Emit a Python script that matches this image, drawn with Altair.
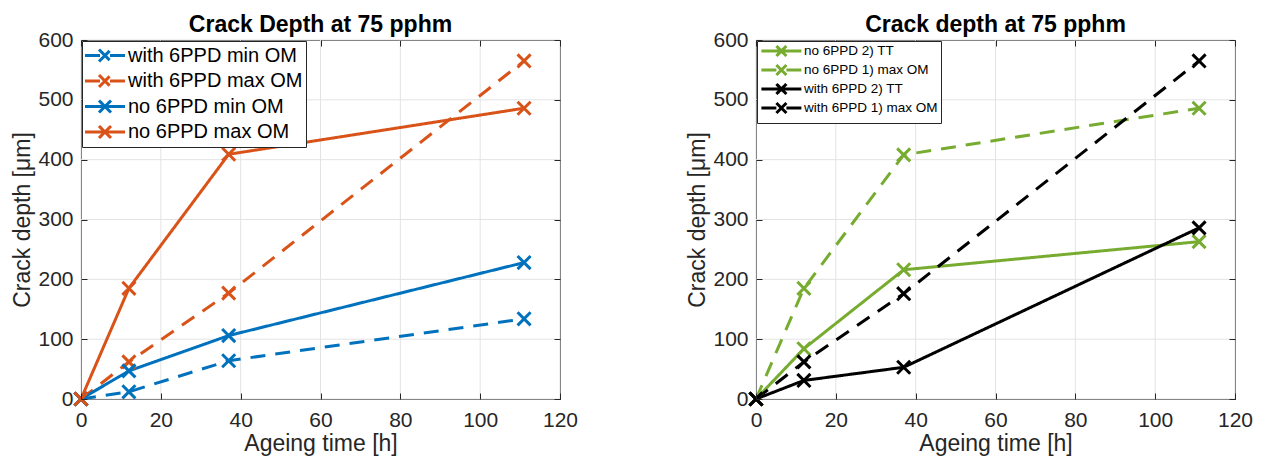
import altair as alt
import pandas as pd

# ---------------- data ----------------
time_h = [0, 12, 37, 111]

left_series = ["with 6PPD min OM", "with 6PPD max OM", "no 6PPD min OM", "no 6PPD max OM"]
left_with_min = [0, 12, 64, 134]
left_with_max = [0, 62, 177, 565]
left_no_min = [0, 47, 106, 228]
left_no_max = [0, 185, 409, 486]
left_colors = ["#0072BD", "#D95319", "#0072BD", "#D95319"]
left_dashed = [True, True, False, False]

right_series = ["no 6PPD 2) TT", "no 6PPD 1) max OM", "with 6PPD 2) TT", "with 6PPD 1) max OM"]
right_no_tt = [0, 84, 216, 263]
right_no_max = [0, 185, 408, 486]
right_with_tt = [0, 31, 53, 286]
right_with_max = [0, 62, 176, 565]
right_colors = ["#77AC30", "#77AC30", "#000000", "#000000"]
right_dashed = [False, True, False, True]

x_ticks = [0, 20, 40, 60, 80, 100, 120]
y_ticks = [0, 100, 200, 300, 400, 500, 600]

# ---------------- style ----------------
W, H = 479, 359
TICK = 6
FONT = "Liberation Sans"
AX = "#262626"
GRID = "#e3e3e3"
DASH = [15, 10]
SOLID = [1, 0]
X_MARK = "M-1,-1L1,1M-1,1L1,-1"


def make_df(series, values):
    rows = []
    for s, vals in zip(series, values):
        for t, v in zip(time_h, vals):
            rows.append({"series": s, "t": t, "depth": v})
    return pd.DataFrame(rows)


def panel(df, series, colors, dashed, title, leg):
    dashes = [DASH if d else SOLID for d in dashed]
    legend = alt.Legend(
        title=None, orient="top-left", offset=1,
        symbolType=leg["path"], symbolSize=leg["size"], symbolStrokeWidth=3,
        labelFont=FONT, labelFontSize=leg["font"], labelColor="black",
        labelOffset=leg["labelOffset"], rowPadding=leg["rowPadding"],
        padding=leg["padding"], strokeColor=AX, fillColor="white",
        cornerRadius=0, labelLimit=500, zindex=2,
    )
    color = alt.Color("series:N", scale=alt.Scale(domain=series, range=colors), legend=legend)
    dash = alt.StrokeDash("series:N", scale=alt.Scale(domain=series, range=dashes), legend=legend)

    xs = alt.Scale(domain=[0, 120], nice=False, zero=False)
    ys = alt.Scale(domain=[0, 600], nice=False)

    x_enc = alt.X("t:Q", scale=xs, axis=alt.Axis(
        orient="bottom", values=x_ticks, title="Ageing time [h]",
        grid=True, gridColor=AX, gridOpacity=1, gridWidth=1,
        gridDash=[TICK, H - 2 * TICK, TICK],
        ticks=False, tickSize=0, domain=False,
        labelFont=FONT, labelFontSize=21, labelColor=AX, labelPadding=10,
        labelFlush=False, labelOverlap=False,
        titleFont=FONT, titleFontSize=23, titleFontWeight="normal", titleColor=AX,
        titlePadding=2, zindex=1))
    y_enc = alt.Y("depth:Q", scale=ys, axis=alt.Axis(
        orient="left", values=y_ticks, title="Crack depth [μm]",
        grid=True, gridColor=AX, gridOpacity=1, gridWidth=1,
        gridDash=[TICK, W - 2 * TICK, TICK],
        ticks=False, tickSize=0, domain=False,
        labelFont=FONT, labelFontSize=21, labelColor=AX, labelPadding=8,
        labelFlush=False, labelOverlap=False,
        titleFont=FONT, titleFontSize=23, titleFontWeight="normal", titleColor=AX,
        titlePadding=3, zindex=1))

    vgrid = alt.Chart(pd.DataFrame({"t": x_ticks})).mark_rule(
        color=GRID, strokeWidth=1).encode(x=x_enc)
    hgrid = alt.Chart(pd.DataFrame({"depth": y_ticks})).mark_rule(
        color=GRID, strokeWidth=1).encode(y=y_enc)
    lines = alt.Chart(df).mark_line(strokeWidth=3, strokeJoin="round").encode(
        x=x_enc, y=y_enc, color=color, strokeDash=dash)
    points = alt.Chart(df).mark_point(
        shape=X_MARK, size=170, filled=False, strokeWidth=3, opacity=1).encode(
        x=x_enc, y=y_enc, color=color)

    return alt.layer(vgrid, hgrid, lines, points).properties(
        width=W, height=H,
        title=alt.TitleParams(text=title, font=FONT, fontSize=23, fontWeight="bold",
                              color="black", anchor="middle", frame="group", offset=-8))


left_df = make_df(left_series, [left_with_min, left_with_max, left_no_min, left_no_max])
right_df = make_df(right_series, [right_no_tt, right_no_max, right_with_tt, right_with_max])

left_leg = {
    "path": "M-1.15,0L2.85,0M0.25,-0.6L1.45,0.6M0.25,0.6L1.45,-0.6",
    "size": 400, "font": 20, "labelOffset": 20, "rowPadding": 0.5, "padding": 3,
}
right_leg = {
    "path": "M-1.02,0L6.25,0M1.71,-0.91L3.53,0.91M1.71,0.91L3.53,-0.91",
    "size": 121, "font": 13.5, "labelOffset": 30, "rowPadding": -8, "padding": 3,
}

left = panel(left_df, left_series, left_colors, left_dashed, "Crack Depth at 75 pphm", left_leg)
right = panel(right_df, right_series, right_colors, right_dashed, "Crack depth at 75 pphm", right_leg)

chart = alt.hconcat(left, right, spacing=107).resolve_scale(
    color="independent", strokeDash="independent"
).properties(
    padding={"left": 3, "top": 5, "right": 0, "bottom": 0}
).configure_view(stroke=AX, strokeWidth=1)

chart.save("out.html", embed_options={"renderer": "svg", "actions": False})
